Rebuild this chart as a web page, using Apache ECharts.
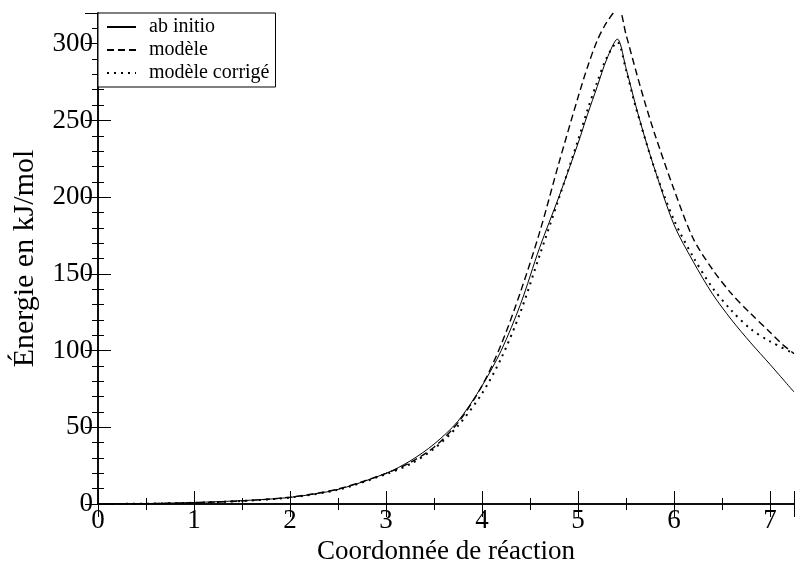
<!DOCTYPE html>
<html>
<head>
<meta charset="utf-8">
<script src="https://cdn.jsdelivr.net/npm/echarts@6/dist/echarts.min.js"></script>
<style>
html,body{margin:0;padding:0;background:#fff;}
#chart{width:795px;height:562px;}
</style>
</head>
<body>
<div id="chart"></div>
<script>
// ---- data ----
const seriesNames = ['ab initio', 'modèle', 'modèle corrigé'];

const xAbInitio = [0, 0.5, 1, 1.5, 2, 2.5, 3, 3.25, 3.5, 3.75, 4, 4.2, 4.4, 4.6, 4.8, 5.0, 5.1, 5.2, 5.3, 5.41, 5.5, 5.6, 5.7, 5.8, 6.0, 6.2, 6.4, 6.6, 6.8, 7.0, 7.25];
const yAbInitio = [0, 0.3, 1, 2.2, 4.3, 9.5, 20, 28, 39, 54, 77, 100, 130, 167, 200, 235, 254, 272, 290, 303, 284, 260, 238, 218, 182, 158, 137, 120, 105, 91, 73];

const xModele = [0, 0.5, 1, 1.5, 2, 2.5, 3, 3.25, 3.5, 3.75, 4, 4.2, 4.4, 4.6, 4.8, 5.0, 5.1, 5.2, 5.3, 5.42, 5.5, 5.6, 5.7, 5.8, 6.0, 6.2, 6.4, 6.6, 6.8, 7.0, 7.13, 7.25];
const yModele = [0, 0.2, 0.8, 2, 4.5, 9.8, 20, 27, 37, 53, 77, 104, 138, 177, 222, 265, 285, 302, 314, 323, 306, 283, 261, 241, 205, 173, 153, 137, 124, 112, 104, 98];

const xCorrige = [0, 0.5, 1, 1.5, 2, 2.5, 3, 3.25, 3.5, 3.75, 4, 4.2, 4.4, 4.6, 4.8, 5.0, 5.1, 5.2, 5.3, 5.41, 5.5, 5.6, 5.8, 6.0, 6.2, 6.4, 6.6, 6.8, 7.0, 7.25];
const yCorrige = [0, 0.2, 0.8, 2, 4.2, 9.3, 19.5, 26, 36, 51, 72, 95, 125, 162, 199, 237, 257, 275, 291, 301, 283, 259, 218, 185, 161, 141, 126, 114, 106, 98];

const xTitle = 'Coordonnée de réaction';
const yTitle = 'Énergie en kJ/mol';

function pairs(xs, ys) { return xs.map((x, i) => [x, ys[i]]); }

const FONT = '"Liberation Serif", "DejaVu Serif", serif';
const chart = echarts.init(document.getElementById('chart'));

const baseAxisLine = { show: true, lineStyle: { color: '#000', width: 1.5 } };
const tickStyle = { color: '#000', width: 1 };
const majorTick = { show: true, inside: true, length: 13, lineStyle: tickStyle };
const minorTickX = { show: true, splitNumber: 2, length: 6, lineStyle: tickStyle };
const minorTickY = { show: true, splitNumber: 5, length: 6, lineStyle: tickStyle };

chart.setOption({
  animation: false,
  backgroundColor: '#fff',
  grid: { left: 98, right: 1, top: 13, bottom: 58, containLabel: false, outerBoundsMode: 'none' },
  legend: {
    left: 98, top: 13,
    orient: 'vertical',
    data: seriesNames,
    borderColor: '#000', borderWidth: 1, borderRadius: 0,
    backgroundColor: '#fff',
    padding: [4, 6, 4, 8],
    itemWidth: 29, itemHeight: 14, itemGap: 3,
    itemStyle: { color: 'transparent', borderWidth: 0, opacity: 0 },
    textStyle: { fontFamily: FONT, fontSize: 20, color: '#000', lineHeight: 20, padding: [0, 0, 0, 8] },
    z: 10
  },
  xAxis: [
    {
      type: 'value', min: 0, max: 7.25, interval: 1,
      position: 'bottom',
      name: xTitle, nameLocation: 'middle', nameGap: 30,
      nameTextStyle: { fontFamily: FONT, fontSize: 27, color: '#000' },
      axisLine: baseAxisLine,
      axisTick: majorTick,
      minorTick: minorTickX,
      axisLabel: { fontFamily: FONT, fontSize: 27, color: '#000', margin: 3, showMaxLabel: false },
      splitLine: { show: false }
    },
    {
      type: 'value', min: 0, max: 7.25, interval: 1,
      position: 'top',
      axisLine: baseAxisLine,
      axisTick: majorTick,
      minorTick: minorTickX,
      axisLabel: { show: false },
      splitLine: { show: false }
    }
  ],
  yAxis: [
    {
      type: 'value', min: 0, max: 320, interval: 50,
      position: 'left',
      name: yTitle, nameLocation: 'middle', nameGap: 58, nameRotate: 90,
      nameTextStyle: { fontFamily: FONT, fontSize: 30, color: '#000' },
      axisLine: baseAxisLine,
      axisTick: majorTick,
      minorTick: minorTickY,
      axisLabel: { fontFamily: FONT, fontSize: 27, color: '#000', margin: 5, showMaxLabel: false },
      splitLine: { show: false }
    },
    {
      type: 'value', min: 0, max: 320, interval: 50,
      position: 'right',
      axisLine: baseAxisLine,
      axisTick: majorTick,
      minorTick: minorTickY,
      axisLabel: { show: false },
      splitLine: { show: false }
    }
  ],
  series: [
    {
      name: seriesNames[0], type: 'line', xAxisIndex: 0, yAxisIndex: 0,
      data: pairs(xAbInitio, yAbInitio), smooth: 0.3, symbol: 'none', clip: true,
      lineStyle: { color: '#000', width: 1, type: 'solid' }, itemStyle: { color: '#000' }
    },
    {
      name: seriesNames[1], type: 'line', xAxisIndex: 0, yAxisIndex: 0,
      data: pairs(xModele, yModele), smooth: 0.3, symbol: 'none', clip: true,
      lineStyle: { color: '#000', width: 1.4, type: [7, 4] }, itemStyle: { color: '#000' }
    },
    {
      name: seriesNames[2], type: 'line', xAxisIndex: 0, yAxisIndex: 0,
      data: pairs(xCorrige, yCorrige), smooth: 0.3, symbol: 'none', clip: true,
      lineStyle: { color: '#000', width: 2, type: [2, 5] }, itemStyle: { color: '#000' }
    }
  ]
});
</script>
</body>
</html>
